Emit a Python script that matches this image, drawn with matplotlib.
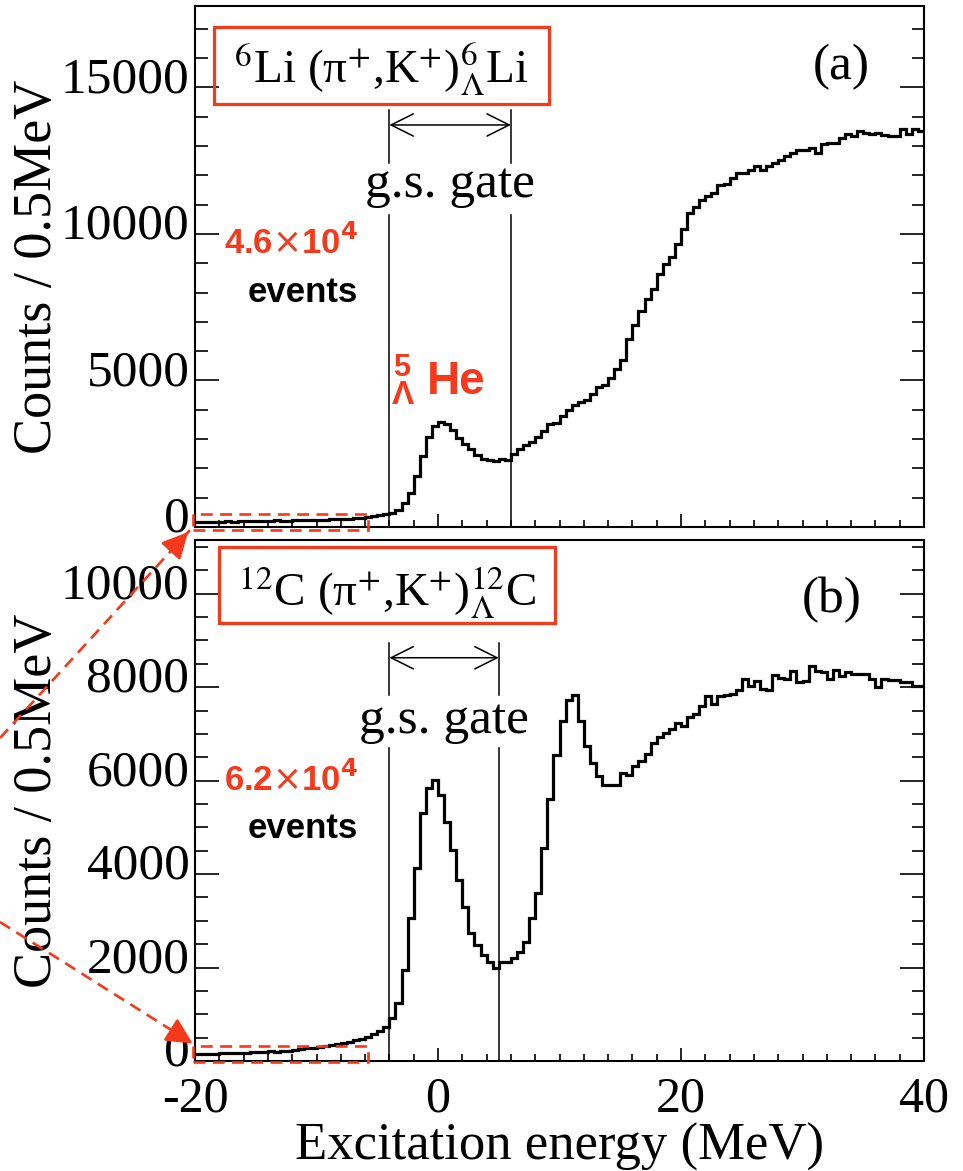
import numpy as np
import matplotlib
matplotlib.use("Agg")
import matplotlib.pyplot as plt
from matplotlib.patches import Rectangle, FancyArrowPatch
from matplotlib.lines import Line2D
from matplotlib.ticker import MultipleLocator
import matplotlib.transforms as mtransforms

W, H = 963, 1171
RED = "#f5391c"
SERIF = "Liberation Serif"
SANS = "Liberation Sans"

plt.rcParams["font.family"] = SERIF
plt.rcParams["mathtext.fontset"] = "stix"

# histogram binning: 0.5 MeV bins from -20 to 40 MeV
bin_edges = np.arange(-20, 40.001, 0.5)

# 6Li(pi+,K+) counts per 0.5 MeV
li6_counts = [
    170, 180, 175, 185, 180, 190, 185, 195, 190, 200,
    205, 200, 215, 230, 210, 220, 230, 225, 240, 250,
    245, 255, 265, 260, 275, 285, 300, 320, 350, 380, 410, 440,
    480, 590, 820, 1160, 1730, 2420, 3060, 3460, 3580, 3500,
    3300, 3050, 2830, 2660, 2450, 2330, 2280, 2250, 2320, 2300,
    2500, 2650, 2800, 2900, 3060, 3290, 3500, 3550, 3800, 3980,
    4150, 4260, 4320, 4550, 4780, 4850, 5070, 5400, 5700, 6400,
    6900, 7370, 7770, 8110, 8630, 8980, 9210,
    9670, 10180, 10700, 10930, 11160, 11280, 11390, 11680, 11700, 11910,
    12080, 12080, 12200, 12310, 12200, 12310, 12420, 12540, 12650, 12770,
    12860, 12860, 12940, 12770, 13060, 13110, 13110, 13290, 13400, 13340,
    13520, 13460, 13400, 13460, 13380, 13350, 13350, 13570, 13400, 13570,
    13500,
]

# 12C(pi+,K+) counts per 0.5 MeV
c12_counts = [
    150, 150, 155, 160, 165, 165, 170, 175,
    180, 185, 185, 190, 220, 200, 210, 220,
    240, 255, 270, 285, 300, 320, 340, 360,
    390, 410, 440, 470, 520, 570, 640, 735,
    914, 1235, 1949, 3055, 4126, 5303, 5839, 6020, 5696, 5125,
    4518, 3876, 3305, 2734, 2484, 2270, 2127, 1984, 2127, 2127,
    2200, 2340, 2550, 3055, 3590, 4550,
    5600, 6553, 7266, 7730, 7837, 7266, 6731, 6377, 6090,
    5900, 5900, 5900, 6160, 6124, 6317, 6410, 6574, 6816, 6931,
    7016, 7102, 7230, 7173, 7359, 7430, 7587, 7816, 7645, 7816,
    7837, 7859, 7944, 8173, 8015, 8123, 7958, 7930, 8265, 8194,
    8173, 8337, 8101, 8123, 8458, 8337, 8316, 8173, 8358, 8230,
    8316, 8290, 8290, 8290, 8173, 8002, 8173, 8150, 8150, 8101,
    8101, 8015, 8015,
]

li6_gate = [-4, 6]
c12_gate = [-4, 5]
xticks = [-20, 0, 20, 40]


def px(x, y):
    # pixel position in the reference -> figure fraction
    return x / W, 1 - y / H


def style_axis(ax, ymax, ymajor, yminor):
    ax.set_xlim(-20, 40)
    ax.set_ylim(0, ymax)
    for s in ax.spines.values():
        s.set_linewidth(1.5)
    ax.xaxis.set_major_locator(MultipleLocator(20))
    ax.xaxis.set_minor_locator(MultipleLocator(2))
    ax.yaxis.set_major_locator(MultipleLocator(ymajor))
    ax.yaxis.set_minor_locator(MultipleLocator(yminor))
    ax.tick_params(axis="y", which="both", direction="in", left=True, right=True,
                   labelsize=37, width=1.2, pad=4)
    ax.tick_params(axis="y", which="major", length=17)
    ax.tick_params(axis="y", which="minor", length=9)
    ax.tick_params(axis="x", which="both", direction="in", bottom=True, top=False,
                   labelsize=36, width=1.2, pad=11)
    ax.tick_params(axis="x", which="major", length=9.5)
    ax.tick_params(axis="x", which="minor", length=5)
    ax.set_ylabel("Counts / 0.5MeV", fontsize=39)
    ax.yaxis.set_label_coords((63 - 195) / (924 - 195), 0.5)


fig = plt.figure(figsize=(W / 100, H / 100), dpi=100)
ax_a = fig.add_axes([195 / W, 1 - 527 / H, (924 - 195) / W, (527 - 6) / H])
ax_b = fig.add_axes([195 / W, 1 - 1061 / H, (924 - 195) / W, (1061 - 540) / H])

style_axis(ax_a, 17780, 5000, 1000)
style_axis(ax_b, 11150, 2000, 500)
ax_a.tick_params(axis="x", labelbottom=False)
ax_b.set_xticks(xticks)
ax_b.set_xticklabels([str(v) for v in xticks])
xl = ax_b.set_xlabel("Excitation energy (MeV)", fontsize=38)
xl.set_verticalalignment("baseline")
ax_b.xaxis.set_label_coords(0.5, -(1160 - 1061) / (1061 - 540))

ax_a.stairs(li6_counts, bin_edges, baseline=None, color="black", lw=2.3)
ax_b.stairs(c12_counts, bin_edges, baseline=None, color="black", lw=2.3)

# gate markers: lines broken around the "g.s. gate" text
for ax, gate, up, low_top, arr_y, txt_y in [
    (ax_a, li6_gate, (12420, 14230), 10650, 13720, 11260),
    (ax_b, c12_gate, (7837, 8950), 6702, 8630, 7024),
]:
    for g in gate:
        ax.plot([g, g], up, color="black", lw=1.1)
        ax.plot([g, g], [0, low_top], color="black", lw=1.1)
    ax.annotate("", xy=(gate[1], arr_y), xytext=(gate[0], arr_y),
                arrowprops=dict(arrowstyle="<->,head_length=1.6,head_width=0.8",
                                color="black", lw=1.1, shrinkA=0, shrinkB=0,
                                mutation_scale=10))
    ax.text(np.mean(gate), txt_y, "g.s. gate", fontsize=37, ha="center", va="baseline")

# shift the "0" tick labels up a bit, as in the original
for ax in (ax_a, ax_b):
    for t in ax.yaxis.get_major_ticks():
        if abs(t.get_loc()) < 1e-6:
            t.label1.set_transform(t.label1.get_transform() +
                                   mtransforms.ScaledTranslation(0, 13 / 100, fig.dpi_scale_trans))

# reaction labels in red boxes
fig.text(*px(381, 83), r"$^{6}$Li (π$^{+}$,K$^{+}$)$^{6}_{\Lambda}$Li", fontsize=34,
         ha="center", va="baseline")
fig.text(*px(387, 606), r"$^{12}$C (π$^{+}$,K$^{+}$)$^{12}_{\Lambda}$C", fontsize=34,
         ha="center", va="baseline")
for (x0, y0, x1, y1) in [(214, 27, 549, 104), (219, 547, 555, 623)]:
    fig.add_artist(Rectangle(px(x0, y1), (x1 - x0) / W, (y1 - y0) / H, fill=False,
                             edgecolor=RED, lw=2.3, transform=fig.transFigure))

fig.text(*px(841, 67), "(a)", fontsize=37, ha="center", va="center")
fig.text(*px(832, 600), "(b)", fontsize=37, ha="center", va="center")

# event counts
for y_num, y_ev, num in [(243, 292, "4.6"), (780, 828, "6.2")]:
    fig.text(*px(291, y_num), num + r"$\times$10$^{\mathbf{4}}$", color=RED, fontsize=25,
             fontweight="bold", family=SANS, ha="center", va="center",
             math_fontfamily="dejavusans")
    fig.text(*px(303, y_ev), "events", color="black", fontsize=25, fontweight="bold",
             family=SANS, ha="center", va="center")

# hypernucleus label
fig.text(*px(402, 368), "5", color=RED, fontsize=22, fontweight="bold", family=SANS,
         ha="center", va="center")
fig.text(*px(403, 396), "Λ", color=RED, fontsize=24, fontweight="bold", family=SANS,
         ha="center", va="center")
fig.text(*px(456, 382), "He", color=RED, fontsize=33, fontweight="bold", family=SANS,
         ha="center", va="center")

# dashed red boxes around the flat background region
for (x0, y0, x1, y1) in [(193, 514, 368, 530), (193, 1046, 368, 1062)]:
    fig.add_artist(Rectangle(px(x0, y1), (x1 - x0) / W, (y1 - y0) / H, fill=False,
                             edgecolor=RED, lw=1.9, linestyle=(0, (4.5, 2.8)),
                             transform=fig.transFigure))

# dashed red arrows pointing at the boxes
for (xs, ys), (xe, ye) in [((0, 738), (190, 530)), ((0, 922), (195, 1045))]:
    fig.add_artist(Line2D([xs / W, xe / W], [1 - ys / H, 1 - ye / H], color=RED, lw=1.9,
                          linestyle=(0, (4.5, 2.8)), transform=fig.transFigure))
    dx, dy = xe - xs, ye - ys
    n = np.hypot(dx, dy)
    hx, hy = xe - 22 * dx / n, ye - 22 * dy / n
    fig.add_artist(FancyArrowPatch(px(hx, hy), px(xe, ye), arrowstyle="-|>,head_length=1.6,head_width=0.8",
                                   mutation_scale=10, color=RED, lw=1.9,
                                   transform=fig.transFigure))

fig.savefig("out.png", dpi=100)
